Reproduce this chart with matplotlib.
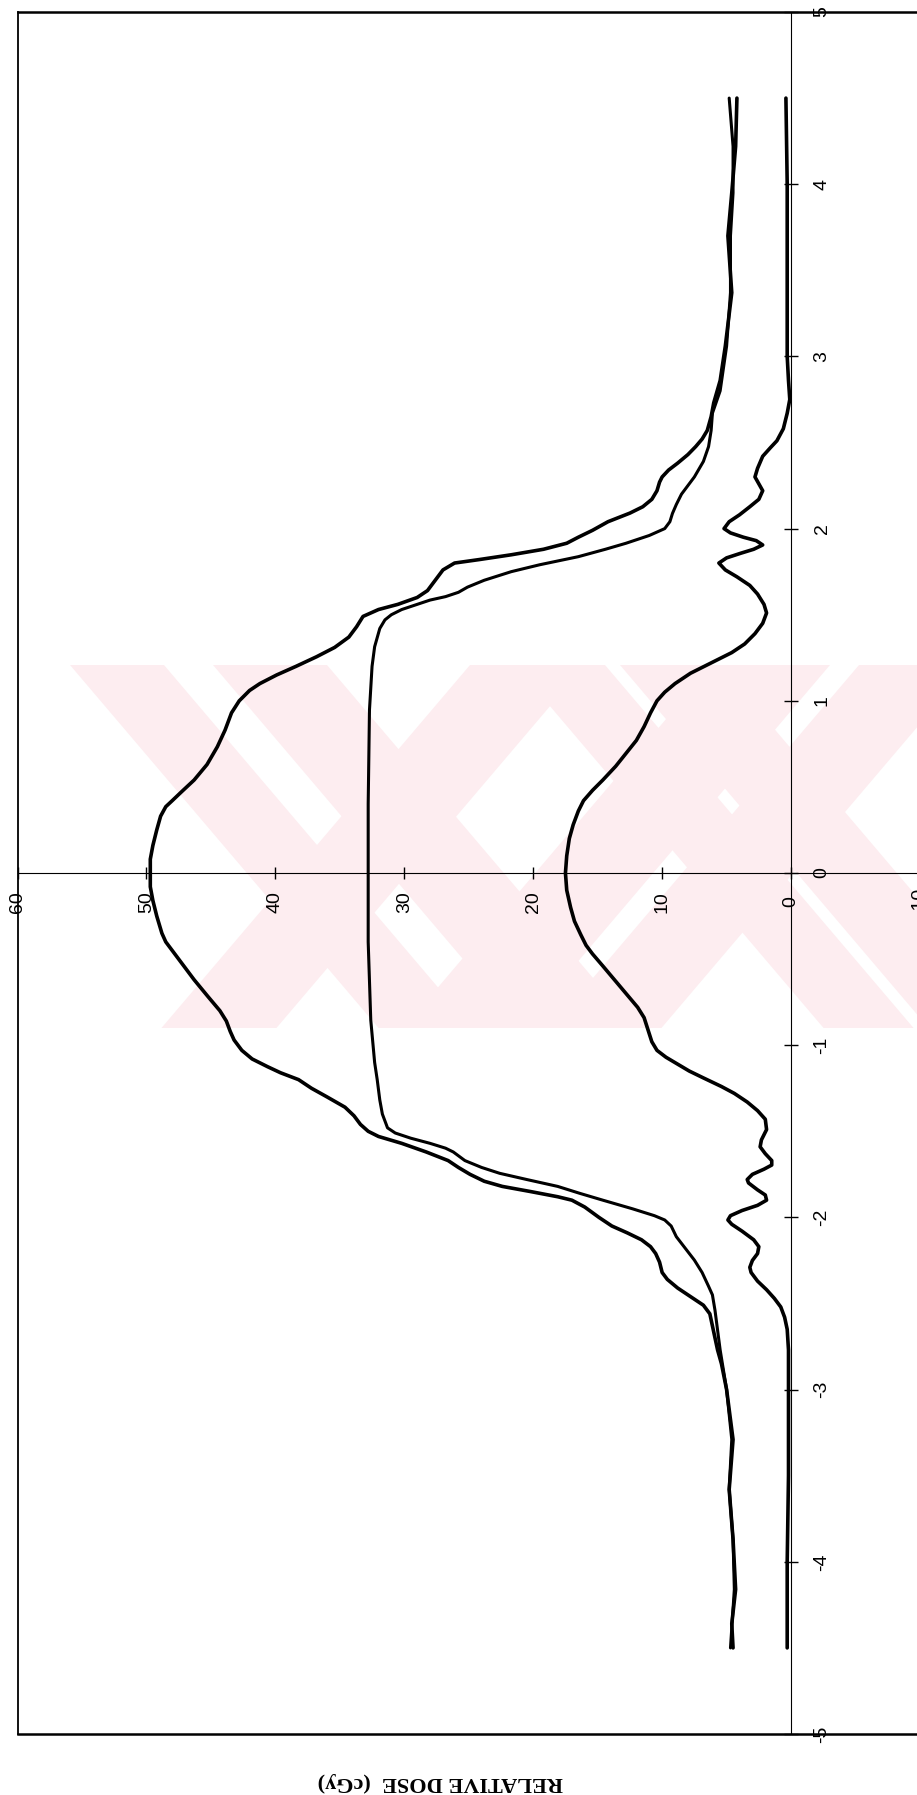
import numpy as np
import matplotlib.pyplot as plt
from matplotlib.patches import Polygon

W, H = 917, 1795

# position across the field (cm) and relative dose (cGy) for the three profiles
pos_a = [-4.5, -4.36, -4.16, -3.87, -3.58, -3.29, -3.0, -2.85, -2.77, -2.63, -2.56, -2.51,
         -2.46, -2.41, -2.36, -2.32, -2.26, -2.21, -2.17, -2.13, -2.09, -2.05, -2.0, -1.94,
         -1.9, -1.88, -1.85, -1.82, -1.79, -1.75, -1.71, -1.67, -1.62, -1.57, -1.53, -1.5,
         -1.46, -1.41, -1.36, -1.3, -1.25, -1.2, -1.16, -1.125, -1.08, -1.03, -0.97, -0.92,
         -0.86, -0.8, -0.72, -0.62, -0.54, -0.46, -0.4, -0.35, -0.25, -0.16, -0.08, 0.0,
         0.08, 0.16, 0.25, 0.33, 0.385, 0.42, 0.47, 0.54, 0.63, 0.733, 0.83, 0.93, 1.0, 1.06,
         1.1, 1.15, 1.2, 1.256, 1.31, 1.37, 1.43, 1.49, 1.53, 1.56, 1.6, 1.64, 1.7, 1.76, 1.8,
         1.82, 1.848, 1.88, 1.915, 1.95, 1.99, 2.04, 2.09, 2.127, 2.17, 2.22, 2.27, 2.3, 2.34,
         2.38, 2.43, 2.476, 2.52, 2.57, 2.65, 2.73, 2.86, 3.06, 3.37, 3.7, 3.95, 4.22, 4.5]
dose_a = [4.5, 4.6, 4.3, 4.5, 4.8, 4.5, 5.0, 5.4, 5.7, 6.1, 6.3, 6.8, 7.8, 8.8, 9.6, 10.0,
          10.2, 10.5, 10.9, 11.6, 12.7, 13.9, 14.9, 16.0, 17.0, 18.1, 20.2, 22.4, 23.8, 24.9,
          25.8, 26.6, 28.3, 30.2, 32.0, 32.8, 33.4, 33.9, 34.6, 36.0, 37.2, 38.2, 39.6, 40.6,
          41.8, 42.6, 43.2, 43.5, 43.8, 44.3, 45.2, 46.3, 47.1, 47.9, 48.5, 48.8, 49.2, 49.5,
          49.7, 49.7, 49.7, 49.5, 49.2, 48.9, 48.5, 48.0, 47.3, 46.3, 45.3, 44.5, 43.9, 43.4,
          42.8, 42.0, 41.2, 39.9, 38.4, 36.8, 35.4, 34.3, 33.7, 33.2, 32.0, 30.5, 29.0, 28.2,
          27.6, 27.0, 26.1, 24.2, 21.7, 19.2, 17.4, 16.5, 15.4, 14.2, 12.5, 11.5, 10.8, 10.4,
          10.2, 10.0, 9.5, 8.8, 8.0, 7.4, 6.9, 6.5, 6.2, 6.0, 5.5, 5.1, 4.6, 4.9, 4.6, 4.3, 4.2]

pos_b = [-4.5, -4.16, -3.87, -3.58, -3.29, -3.0, -2.77, -2.54, -2.45, -2.4, -2.32, -2.248,
         -2.18, -2.112, -2.05, -2.015, -1.99, -1.95, -1.9, -1.86, -1.82, -1.78, -1.744, -1.71,
         -1.67, -1.62, -1.598, -1.57, -1.54, -1.51, -1.48, -1.4, -1.318, -1.2, -1.1, -0.854,
         -0.4, 0.0, 0.4, 0.947, 1.2, 1.314, 1.42, 1.47, 1.5, 1.53, 1.56, 1.585, 1.605, 1.63,
         1.66, 1.7, 1.75, 1.79, 1.837, 1.88, 1.915, 1.96, 2.0, 2.04, 2.088, 2.14, 2.2, 2.25,
         2.3, 2.39, 2.476, 2.57, 2.67, 2.8, 3.06, 3.37, 3.7, 3.95, 4.22, 4.5]
dose_b = [4.7, 4.4, 4.5, 4.8, 4.6, 5.0, 5.5, 5.9, 6.1, 6.4, 6.9, 7.5, 8.2, 8.9, 9.3, 9.8,
          10.6, 12.3, 14.6, 16.4, 18.1, 20.5, 22.6, 24.0, 25.3, 26.2, 26.8, 28.0, 29.5, 30.7,
          31.3, 31.7, 31.9, 32.1, 32.3, 32.6, 32.8, 32.8, 32.8, 32.7, 32.5, 32.3, 31.9, 31.5,
          31.0, 30.2, 29.0, 28.0, 26.8, 25.8, 25.1, 23.8, 21.7, 19.5, 16.5, 14.4, 12.8, 11.0,
          9.8, 9.4, 9.2, 8.9, 8.5, 8.0, 7.5, 6.8, 6.4, 6.2, 6.1, 5.5, 5.0, 4.7, 4.7, 4.5, 4.5,
          4.8]

pos_c = [-4.5, -4.0, -3.5, -3.0, -2.77, -2.65, -2.58, -2.52, -2.47, -2.42, -2.37, -2.32,
         -2.29, -2.25, -2.21, -2.17, -2.13, -2.08, -2.04, -2.015, -1.99, -1.96, -1.93, -1.9,
         -1.87, -1.84, -1.8, -1.78, -1.75, -1.72, -1.696, -1.67, -1.63, -1.59, -1.55, -1.49,
         -1.43, -1.38, -1.33, -1.28, -1.24, -1.19, -1.15, -1.11, -1.07, -1.03, -0.98, -0.91,
         -0.84, -0.78, -0.7, -0.62, -0.54, -0.47, -0.42, -0.36, -0.28, -0.2, -0.1, 0.0, 0.1,
         0.2, 0.28, 0.36, 0.42, 0.48, 0.54, 0.62, 0.695, 0.77, 0.85, 0.93, 1.0, 1.05, 1.1,
         1.16, 1.22, 1.28, 1.33, 1.39, 1.45, 1.51, 1.56, 1.62, 1.67, 1.72, 1.76, 1.8, 1.83,
         1.857, 1.88, 1.905, 1.93, 1.95, 1.975, 2.0, 2.04, 2.08, 2.127, 2.17, 2.22, 2.26, 2.3,
         2.35, 2.42, 2.47, 2.51, 2.58, 2.67, 2.75, 2.86, 3.0, 3.5, 4.0, 4.5]
dose_c = [0.3, 0.3, 0.2, 0.2, 0.2, 0.3, 0.5, 0.8, 1.3, 1.9, 2.6, 3.1, 3.2, 3.0, 2.6, 2.5,
          2.9, 3.8, 4.6, 4.9, 4.7, 3.8, 2.6, 1.9, 2.0, 2.6, 3.3, 3.4, 3.0, 2.1, 1.5, 1.5, 2.0,
          2.4, 2.3, 1.9, 2.0, 2.6, 3.4, 4.4, 5.4, 6.8, 7.9, 8.8, 9.7, 10.4, 10.8, 11.1, 11.4,
          11.9, 12.8, 13.7, 14.6, 15.4, 15.9, 16.3, 16.8, 17.1, 17.4, 17.5, 17.4, 17.2, 16.9,
          16.5, 16.1, 15.4, 14.6, 13.6, 12.8, 12.0, 11.4, 10.9, 10.4, 9.8, 9.0, 7.8, 6.2, 4.6,
          3.6, 2.8, 2.2, 1.9, 2.1, 2.6, 3.2, 4.2, 5.1, 5.6, 5.0, 3.9, 2.9, 2.2, 2.7, 3.7, 4.7,
          5.2, 4.8, 4.0, 3.2, 2.5, 2.2, 2.5, 2.8, 2.6, 2.2, 1.6, 1.1, 0.6, 0.3, 0.1, 0.2, 0.3,
          0.3, 0.3, 0.4]

dose_ticks = [60, 50, 40, 30, 20, 10, 0, -10]
pos_ticks = [-5, -4, -3, -2, -1, 0, 1, 2, 3, 4, 5]

fig = plt.figure(figsize=(W / 100, H / 100), dpi=100)


def px(x, y):
    return (x / W, 1 - y / H)


# pale background stamp (diagonal bands)
wm_top, wm_bot = 665, 1028
shift = 0.85 * (wm_bot - wm_top)
clip = Polygon([px(70, wm_top), px(917, wm_top), px(917, wm_bot), px(132, wm_bot)],
               closed=True, transform=fig.transFigure)
bands = [(70, 164, 1), (213, 327, 1), (515, 605, 1), (620, 720, 1),
         (470, 585, -1), (712, 830, -1), (859, 970, -1)]
for x0, x1, s in bands:
    p = Polygon([px(x0, wm_top), px(x1, wm_top), px(x1 + s * shift, wm_bot),
                 px(x0 + s * shift, wm_bot)], closed=True, transform=fig.transFigure,
                facecolor='#fdedf0', edgecolor='none', zorder=0)
    fig.add_artist(p)
    p.set_clip_path(clip)

ax = fig.add_axes([17.5 / W, 1 - 1734 / H, 902.5 / W, 1722 / H])
ax.set_facecolor('none')
ax.set_xlim(60, -10)
ax.set_ylim(-5, 5)
ax.set_xticks([])
ax.set_yticks([])
ax.spines['right'].set_visible(False)
ax.spines['left'].set_linewidth(1.3)
ax.spines['top'].set_linewidth(1.8)
ax.spines['bottom'].set_linewidth(1.8)

# axes through the origin
ax.axhline(0, color='black', lw=0.8)
ax.axvline(0, color='black', lw=0.8)
ax.plot(dose_ticks, [0] * len(dose_ticks), ls='none', marker='|', ms=8, mew=1,
        color='black', clip_on=False)
ax.plot([0] * len(pos_ticks), pos_ticks, ls='none', marker='_', ms=10, mew=1,
        color='black', clip_on=False)

for d in dose_ticks:
    ax.annotate(str(d), (d, 0), xytext=(0, -29), textcoords='offset pixels',
                rotation=90, ha='center', va='center', fontsize=14,
                family='Liberation Sans', annotation_clip=False)
for p in pos_ticks:
    ax.annotate(str(p), (0, p), xytext=(31, 0), textcoords='offset pixels',
                rotation=90, ha='center', va='center', fontsize=14,
                family='Liberation Sans', annotation_clip=False)

kw = dict(color='black', solid_joinstyle='round', solid_capstyle='round')
ax.plot(dose_a, pos_a, lw=2.6, **kw)
ax.plot(dose_b, pos_b, lw=2.2, **kw)
ax.plot(dose_c, pos_c, lw=2.6, **kw)

fig.text(440 / W, 1 - 1782 / H, 'RELATIVE DOSE  (cGy)', rotation=180, ha='center',
         va='center', fontsize=16, fontweight='bold', family='Liberation Serif')

fig.savefig('out.png', dpi=100)
